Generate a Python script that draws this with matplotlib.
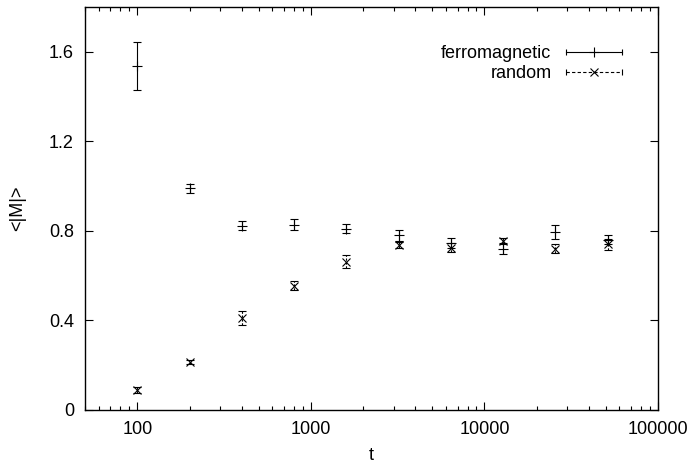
import numpy as np
import matplotlib
matplotlib.use('Agg')
import matplotlib.pyplot as plt
from matplotlib.lines import Line2D
from matplotlib.legend_handler import HandlerLine2D
from matplotlib.ticker import LogLocator, NullFormatter

plt.rcParams['font.family'] = ['Liberation Sans', 'DejaVu Sans']

# data
t = [100, 200, 400, 800, 1600, 3200, 6400, 12800, 25600, 51200]
ferro = [1.537, 0.991, 0.824, 0.827, 0.809, 0.78, 0.745, 0.72, 0.795, 0.76]
ferro_err = [0.107, 0.02, 0.02, 0.025, 0.02, 0.025, 0.022, 0.025, 0.03, 0.02]
rand = [0.09, 0.215, 0.41, 0.554, 0.663, 0.737, 0.725, 0.755, 0.72, 0.74]
rand_err = [0.012, 0.01, 0.03, 0.02, 0.03, 0.012, 0.02, 0.015, 0.02, 0.025]

xticks = [100, 1000, 10000, 100000]
yticks = [0, 0.4, 0.8, 1.2, 1.6]

fig = plt.figure(figsize=(6.91, 4.66), dpi=100)
ax = fig.add_axes([85/691, 1 - 410/466, (658 - 85)/691, (410 - 7)/466])

lw = 0.8
eb1 = ax.errorbar(t, ferro, yerr=ferro_err, fmt='+', color='k', ms=7, mew=lw,
                  elinewidth=lw, capsize=3.2, capthick=lw)
eb2 = ax.errorbar(t, rand, yerr=rand_err, fmt='x', color='k', ms=6, mew=lw,
                  elinewidth=lw, capsize=3.2, capthick=lw)
eb2[2][0].set_linestyle((0, (2, 1.5)))

ax.set_xscale('log')
ax.set_xlim(50, 100000)
ax.set_ylim(0, 1.8)
ax.set_xticks(xticks)
ax.set_xticklabels([str(v) for v in xticks])
ax.xaxis.set_minor_locator(LogLocator(base=10, subs=np.arange(2, 10)))
ax.xaxis.set_minor_formatter(NullFormatter())
ax.set_yticks(yticks)
ax.set_yticklabels(['0', '0.4', '0.8', '1.2', '1.6'])

ax.tick_params(which='both', direction='in', top=True, right=True,
               labelsize=13, width=lw, pad=8)
ax.tick_params(which='major', length=6)
ax.tick_params(which='minor', length=3)
for s in ax.spines.values():
    s.set_linewidth(1.0)

ax.set_xlabel('t', fontsize=13)
ax.set_ylabel('<|M|>', fontsize=13)
ax.xaxis.set_label_coords(0.5, -0.092)
ax.yaxis.set_label_coords(-0.103, 0.5)

# gnuplot-style key entries
l1 = Line2D([], [], color='k', lw=lw, marker='+', ms=7, mew=lw)
c1 = Line2D([], [], color='k', ls='none', marker='|', ms=5, mew=lw)
l2 = Line2D([], [], color='k', lw=lw, ls=(0, (3, 2)), marker='x', ms=6, mew=lw)
c2 = Line2D([], [], color='k', ls='none', marker='|', ms=5, mew=lw)
caps = HandlerLine2D(numpoints=2, marker_pad=0)
ax.legend([(l1, c1), (l2, c2)], ['ferromagnetic', 'random'],
          handler_map={c1: caps, c2: caps},
          loc='upper right', bbox_to_anchor=(0.937, 0.905), frameon=False,
          markerfirst=False, fontsize=13, handlelength=3.1, handletextpad=0.8,
          labelspacing=0.15, borderpad=0, borderaxespad=0, numpoints=1)

fig.savefig('out.png', dpi=100)
